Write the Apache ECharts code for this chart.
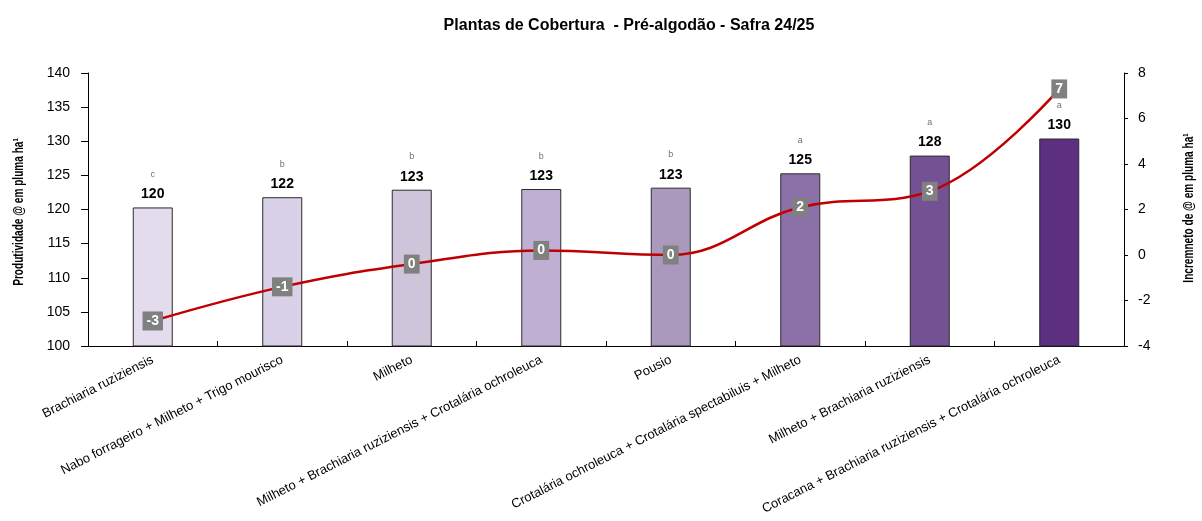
<!DOCTYPE html>
<html>
<head>
<meta charset="utf-8">
<script src="https://cdn.jsdelivr.net/npm/echarts@6/dist/echarts.min.js"></script>
<style>
  html, body { margin: 0; padding: 0; background: #fff; }
  #chart { width: 1202px; height: 521px; }
</style>
</head>
<body>
<div id="chart"></div>
<script>
// Cover crops ahead of cotton, 2024/25 season
const categories = [
  'Brachiaria ruziziensis',
  'Nabo forrageiro + Milheto + Trigo mourisco',
  'Milheto',
  'Milheto + Brachiaria ruziziensis + Crotalária ochroleuca',
  'Pousio',
  'Crotalária ochroleuca + Crotalária spectabiluis + Milheto',
  'Milheto + Brachiaria ruziziensis',
  'Coracana + Brachiaria ruziziensis + Crotalária ochroleuca'
];
// Lint yield (@ em pluma ha-1)
const productivity = [120.3, 121.8, 122.9, 123.0, 123.2, 125.3, 127.9, 130.4];
// Statistical grouping letters
const groupLetters = ['c', 'b', 'b', 'b', 'b', 'a', 'a', 'a'];
// Yield increment (@ em pluma ha-1)
const increment = [-2.9, -1.4, -0.4, 0.2, 0.0, 2.1, 2.8, 7.3];

const leftTicks = { min: 100, max: 140, interval: 5 };
const rightTicks = { min: -4, max: 8, interval: 2 };

const leftAxisTitle = 'Produtividade @ em pluma ha¹';
const rightAxisTitle = 'Incremneto de @ em pluma ha¹';

// Styling
const barColors = ['#E3DCEC', '#D9D1E7', '#CEC5DB', '#BFB0D3', '#AB98BD', '#8B71A7', '#735193', '#5C2F80'];
const FONT = "'Liberation Sans', Arial, Helvetica, sans-serif";

const chart = echarts.init(document.getElementById('chart'), null, { renderer: 'canvas' });

// Condensed bold axis titles (rotated, squeezed along the reading direction)
function axisTitle(text, x, y) {
  return {
    type: 'text',
    x: x,
    y: y,
    rotation: Math.PI / 2,
    scaleX: 0.72,
    z: 10,
    style: {
      text: text,
      font: "bold 14px 'Liberation Sans', Arial, sans-serif",
      fill: '#000',
      align: 'center',
      verticalAlign: 'middle'
    }
  };
}

chart.setOption({
  backgroundColor: '#ffffff',
  animation: false,
  title: {
    text: 'Plantas de Cobertura  - Pré-algodão - Safra 24/25',
    left: 624,
    top: 13,
    textAlign: 'center',
    textStyle: { fontFamily: FONT, fontSize: 16, fontWeight: 'bold', color: '#000' }
  },
  grid: { left: 88, right: 78, top: 73, bottom: 175, containLabel: false, outerBoundsMode: 'none' },
  graphic: [
    axisTitle(leftAxisTitle, 19, 212),
    axisTitle(rightAxisTitle, 1189, 208)
  ],
  xAxis: {
    type: 'category',
    data: categories,
    boundaryGap: true,
    axisLine: { onZero: false, lineStyle: { color: '#000', width: 1 } },
    axisTick: { show: true, inside: true, length: 5, lineStyle: { color: '#000' } },
    axisLabel: {
      interval: 0,
      rotate: 27,
      margin: 13,
      fontFamily: FONT,
      fontSize: 13,
      color: '#000'
    },
    splitLine: { show: false }
  },
  yAxis: [
    {
      type: 'value',
      min: leftTicks.min,
      max: leftTicks.max,
      interval: leftTicks.interval,
      position: 'left',
      axisLine: { show: true, lineStyle: { color: '#000', width: 1 } },
      axisTick: { show: true, length: 7, lineStyle: { color: '#000' } },
      axisLabel: { fontFamily: FONT, fontSize: 14, color: '#000', margin: 18 },
      splitLine: { show: false }
    },
    {
      type: 'value',
      min: rightTicks.min,
      max: rightTicks.max,
      interval: rightTicks.interval,
      position: 'right',
      axisLine: { show: true, lineStyle: { color: '#000', width: 1 } },
      axisTick: { show: true, length: 4, lineStyle: { color: '#000' } },
      axisLabel: { fontFamily: FONT, fontSize: 14, color: '#000', margin: 14 },
      splitLine: { show: false }
    }
  ],
  series: [
    {
      name: 'Produtividade',
      type: 'bar',
      yAxisIndex: 0,
      barWidth: 40,
      data: productivity.map((v, i) => ({
        value: v,
        itemStyle: { color: barColors[i] }
      })),
      itemStyle: { borderColor: '#2b2b2b', borderWidth: 1 },
      label: {
        show: true,
        position: 'top',
        distance: 5,
        formatter: p => '{l|' + groupLetters[p.dataIndex] + '}\n{v|' + Math.round(p.value) + '}',
        rich: {
          l: { fontFamily: FONT, fontSize: 9, color: '#707070', lineHeight: 24, align: 'center' },
          v: { fontFamily: FONT, fontSize: 14, fontWeight: 'bold', color: '#000', lineHeight: 16, align: 'center' }
        }
      },
      z: 2
    },
    {
      name: 'Incremento',
      type: 'line',
      yAxisIndex: 1,
      data: increment,
      smooth: 0.4,
      symbol: 'circle',
      symbolSize: 1,
      showSymbol: true,
      lineStyle: { color: '#C00000', width: 2.5 },
      itemStyle: { color: '#C00000' },
      label: {
        show: true,
        position: 'inside',
        formatter: p => String(Math.round(p.value)),
        fontFamily: FONT,
        fontSize: 14,
        fontWeight: 'bold',
        color: '#fff',
        backgroundColor: '#808080',
        padding: [3, 4, 2, 4]
      },
      z: 5
    }
  ]
});
</script>
</body>
</html>
